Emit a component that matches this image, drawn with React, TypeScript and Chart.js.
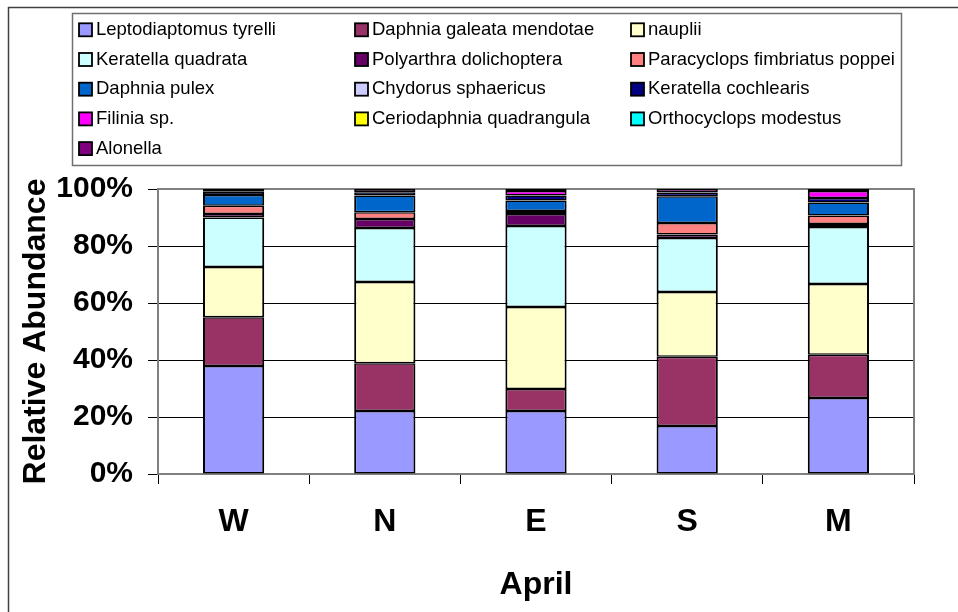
import { useEffect, useRef } from "react";
import { Chart, registerables } from "chart.js";

Chart.register(...registerables);

const categories = ["W", "N", "E", "S", "M"];
const xTitle = "April";
const yTitle = "Relative Abundance";
const yTicks = [0, 20, 40, 60, 80, 100];

const leptodiaptomusTyrelli = [37.9, 22.1, 22.1, 16.8, 26.7];
const daphniaGaleataMendotae = [17.1, 16.8, 7.7, 24.3, 15.1];
const nauplii = [17.6, 28.5, 28.8, 22.8, 24.9];
const keratellaQuadrata = [17.4, 18.9, 28.4, 18.9, 20.0];
const polyarthraDolichoptera = [1.2, 3.2, 4.2, 1.2, 1.0];
const paracyclopsFimbriatusPoppei = [2.9, 2.3, 1.1, 4.1, 3.0];
const daphniaPulex = [3.8, 5.9, 3.7, 9.4, 4.6];
const chydorusSphaericus = [0, 0, 0, 0, 0];
const keratellaCochlearis = [1.1, 1.2, 1.7, 1.3, 1.5];
const filiniaSp = [0, 0, 1.6, 0, 2.5];
const ceriodaphniaQuadrangula = [0, 0, 0, 0, 0];
const orthocyclopsModestus = [0, 0, 0, 0, 0];
const alonella = [1.0, 1.1, 0.7, 1.2, 0.7];

const seriesNames = [
  "Leptodiaptomus tyrelli",
  "Daphnia galeata mendotae",
  "nauplii",
  "Keratella quadrata",
  "Polyarthra dolichoptera",
  "Paracyclops fimbriatus poppei",
  "Daphnia pulex",
  "Chydorus sphaericus",
  "Keratella cochlearis",
  "Filinia sp.",
  "Ceriodaphnia quadrangula",
  "Orthocyclops modestus",
  "Alonella",
];
const seriesValues = [
  leptodiaptomusTyrelli,
  daphniaGaleataMendotae,
  nauplii,
  keratellaQuadrata,
  polyarthraDolichoptera,
  paracyclopsFimbriatusPoppei,
  daphniaPulex,
  chydorusSphaericus,
  keratellaCochlearis,
  filiniaSp,
  ceriodaphniaQuadrangula,
  orthocyclopsModestus,
  alonella,
];
const seriesColors = [
  "#9999FF",
  "#993366",
  "#FFFFCC",
  "#CCFFFF",
  "#660066",
  "#FF8080",
  "#0066CC",
  "#CCCCFF",
  "#000080",
  "#FF00FF",
  "#FFFF00",
  "#00FFFF",
  "#800080",
];

const FONT = "'Liberation Sans', Arial, Helvetica, sans-serif";

const framePlugin = {
  id: "frameAndLegend",
  beforeDatasetsDraw(chart: any) {
    const { ctx, chartArea } = chart;
    ctx.save();
    ctx.strokeStyle = "#808080";
    ctx.lineWidth = 2;
    ctx.strokeRect(
      chartArea.left,
      chartArea.top,
      chartArea.right - chartArea.left,
      chartArea.bottom - chartArea.top
    );
    ctx.restore();
  },
  afterDraw(chart: any) {
    const { ctx } = chart;
    ctx.save();
    // outer chart frame
    ctx.strokeStyle = "#404040";
    ctx.lineWidth = 1.5;
    ctx.beginPath();
    ctx.moveTo(8.5, 620);
    ctx.lineTo(8.5, 7.5);
    ctx.lineTo(970, 7.5);
    ctx.stroke();

    // legend box
    ctx.strokeStyle = "#707070";
    ctx.lineWidth = 1.5;
    ctx.strokeRect(72.5, 13.5, 829, 152);

    const colX = [79, 355, 631];
    const rowY0 = 29.8;
    const rowStep = 29.7;
    const sw = 13;
    ctx.font = `18.5px ${FONT}`;
    ctx.textBaseline = "middle";
    ctx.textAlign = "left";
    chart.data.datasets.forEach((ds: any, i: number) => {
      const col = i % 3;
      const row = Math.floor(i / 3);
      const x = colX[col];
      const y = rowY0 + row * rowStep;
      ctx.fillStyle = ds.backgroundColor;
      ctx.fillRect(x, y - sw / 2, sw, sw);
      ctx.strokeStyle = "#000";
      ctx.lineWidth = 1.8;
      ctx.strokeRect(x, y - sw / 2, sw, sw);
      ctx.fillStyle = "#000";
      ctx.fillText(ds.label, x + 17, y);
    });
    ctx.restore();
  },
};

export default function App() {
  const canvasRef = useRef<HTMLCanvasElement | null>(null);

  useEffect(() => {
    const canvas = canvasRef.current;
    if (!canvas) return;
    const chart = new Chart(canvas, {
      type: "bar",
      data: {
        labels: categories,
        datasets: seriesNames.map((name, i) => ({
          label: name,
          data: seriesValues[i],
          backgroundColor: seriesColors[i],
          borderColor: "#000",
          borderWidth: { left: 2, right: 2, top: 1.5, bottom: 1.5 },
          borderSkipped: false,
          barPercentage: 0.405,
          categoryPercentage: 1,
        })),
      },
      options: {
        animation: false,
        responsive: false,
        maintainAspectRatio: false,
        devicePixelRatio: 1,
        layout: { padding: { top: 189, right: 44, bottom: 0, left: 0 } },
        plugins: {
          legend: { display: false },
          tooltip: { enabled: false },
        },
        scales: {
          x: {
            stacked: true,
            afterFit: (s: any) => {
              s.height = 138;
            },
            grid: {
              offset: true,
              drawOnChartArea: false,
              drawTicks: true,
              tickLength: 10,
              color: "#000",
            },
            border: { display: true, color: "#808080", width: 2 },
            ticks: {
              color: "#000",
              padding: 19,
              font: { family: FONT, size: 32, weight: "bold" },
            },
            title: {
              display: true,
              text: xTitle,
              color: "#000",
              padding: { top: 0, bottom: 8 },
              font: { family: FONT, size: 32, weight: "bold" },
            },
          },
          y: {
            stacked: true,
            min: 0,
            max: 100,
            afterFit: (s: any) => {
              s.width = 158;
            },
            afterBuildTicks: (s: any) => {
              s.ticks = yTicks.map((v) => ({ value: v }));
            },
            grid: {
              color: (c: any) =>
                c.tick && (c.tick.value === 0 || c.tick.value === 100)
                  ? "#808080"
                  : "#000",
              tickColor: "#000",
              tickLength: 10,
              lineWidth: 1,
            },
            border: { display: true, color: "#606060", width: 1.5 },
            ticks: {
              color: "#000",
              padding: 15,
              font: { family: FONT, size: 30, weight: "bold" },
              callback: (v: any) => `${v}%`,
            },
            title: {
              display: true,
              text: yTitle,
              color: "#000",
              padding: { top: 17, bottom: 0 },
              font: { family: FONT, size: 32, weight: "bold" },
            },
          },
        },
      },
      plugins: [framePlugin],
    });
    return () => chart.destroy();
  }, []);

  return (
    <div
      style={{
        position: "fixed",
        left: 0,
        top: 0,
        width: 958,
        height: 612,
        background: "#fff",
      }}
    >
      <canvas
        ref={canvasRef}
        width={958}
        height={612}
        style={{ width: 958, height: 612, display: "block" }}
      />
    </div>
  );
}
